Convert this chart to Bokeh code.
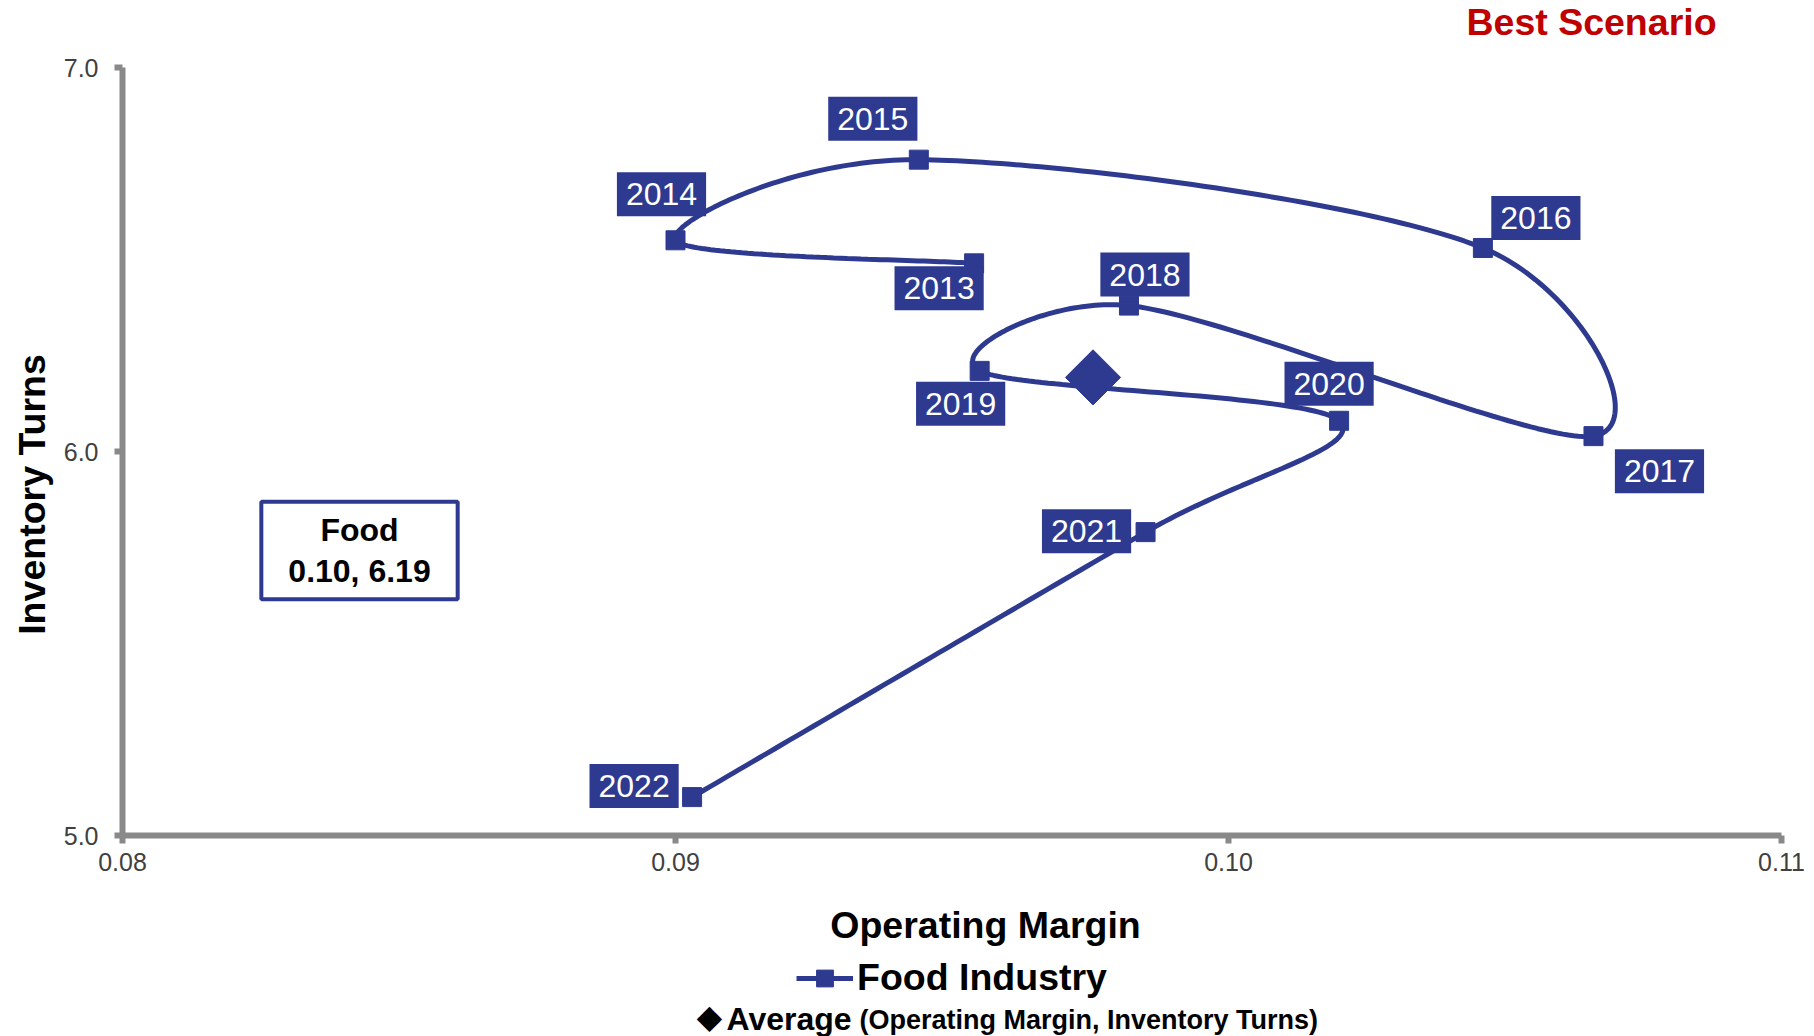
import numpy as np
from bokeh.plotting import figure
from bokeh.layouts import column, row
from bokeh.models import (Label, Legend, LegendItem, FixedTicker,
                          PrintfTickFormatter)
from bokeh.embed import file_html
from bokeh.resources import INLINE

# ---- data -----------------------------------------------------------------
years = ["2013", "2014", "2015", "2016", "2017",
         "2018", "2019", "2020", "2021", "2022"]
operating_margin = [0.0954, 0.0900, 0.0944, 0.1046, 0.1066,
                    0.0982, 0.0955, 0.1020, 0.0985, 0.0903]
inventory_turns = [6.49, 6.55, 6.76, 6.53, 6.04,
                   6.38, 6.21, 6.08, 5.79, 5.10]
x_ticks = [0.08, 0.09, 0.10, 0.11]
y_ticks = [5.0, 6.0, 7.0]

# ---- layout / style -------------------------------------------------------
BLUE = "#2E3A90"
AXIS_GREY = "#898989"
FONT = "Liberation Sans"
TITLE_SIZE = "37.5px"
X_RANGE = (0.08, 0.11)
Y_RANGE = (5.0, 7.0)

PAGE_W = 1814
TOP_H = 47            # strip above the chart
LEFT_W = 60           # strip left of the chart
BOTTOM_H = 141        # strip below the chart
MAIN_W = PAGE_W - LEFT_W
MAIN_H = 848
BORDER_L, BORDER_R, BORDER_T, BORDER_B = 62, 33, 20, 60
FRAME_W = MAIN_W - BORDER_L - BORDER_R
FRAME_H = MAIN_H - BORDER_T - BORDER_B

# pixel offsets of each year tag from its point (right / up)
tag_dx = [-35, -14, -46, 53, 66, 16, -19, -10, -59, -58]
tag_dy = [-25, 46, 41, 30, -35, 31, -33, 37, 1, 11]

avg_x = float(np.mean(operating_margin))
avg_y = float(np.mean(inventory_turns))


def smooth_path(xs, ys, kx, ky, tension=1 / 6, steps=60):
    """Piecewise cubic Bezier through the points, with control arms limited
    to half of each segment (computed in screen proportions)."""
    P = np.column_stack([np.asarray(xs) * kx, np.asarray(ys) * ky])
    n = len(P)
    t = np.linspace(0.0, 1.0, steps)[:, None]
    out = []
    for i in range(n - 1):
        p0 = P[max(i - 1, 0)]
        p1 = P[i]
        p2 = P[i + 1]
        p3 = P[min(i + 2, n - 1)]
        d12 = np.hypot(*(p2 - p1))
        a = p2 - p0
        b = p3 - p1
        da = np.hypot(*a)
        db = np.hypot(*b)
        f1 = tension if da * tension < d12 / 2 else (d12 / 2) / da
        f2 = tension if db * tension < d12 / 2 else (d12 / 2) / db
        c1 = p1 + a * f1
        c2 = p2 - b * f2
        seg = ((1 - t) ** 3) * p1 + 3 * ((1 - t) ** 2) * t * c1 \
            + 3 * (1 - t) * t ** 2 * c2 + t ** 3 * p2
        out.append(seg if i == 0 else seg[1:])
    path = np.vstack(out)
    return path[:, 0] / kx, path[:, 1] / ky


kx = FRAME_W / (X_RANGE[1] - X_RANGE[0])
ky = FRAME_H / (Y_RANGE[1] - Y_RANGE[0])
curve_x, curve_y = smooth_path(operating_margin, inventory_turns, kx, ky)


def strip(width, height):
    """A blank figure whose frame fills its whole area, used for titles."""
    s = figure(width=width, height=height, x_range=(0, 1), y_range=(0, 1),
               x_axis_type=None, y_axis_type=None, toolbar_location=None,
               output_backend="svg", min_border=0)
    s.grid.visible = False
    s.outline_line_color = None
    s.background_fill_color = "white"
    s.border_fill_color = "white"
    return s


def text(fig, x, y, s, size, align="center", color="black", bold=True,
         font=FONT, angle=0.0):
    fig.add_layout(Label(x=x, y=y, x_units="screen", y_units="screen",
                         text=s, angle=angle, text_align=align,
                         text_baseline="middle", text_font=font,
                         text_font_style="bold" if bold else "normal",
                         text_font_size=size, text_color=color))


# ---- main chart -----------------------------------------------------------
p = figure(width=MAIN_W, height=MAIN_H, x_range=X_RANGE, y_range=Y_RANGE,
           output_backend="svg", toolbar_location=None,
           min_border_left=BORDER_L, min_border_right=BORDER_R,
           min_border_top=BORDER_T, min_border_bottom=BORDER_B)
p.grid.visible = False
p.outline_line_color = None
p.background_fill_color = "white"
p.border_fill_color = "white"

for ax in (p.xaxis[0], p.yaxis[0]):
    ax.axis_line_color = AXIS_GREY
    ax.axis_line_width = 6
    ax.major_tick_line_color = AXIS_GREY
    ax.major_tick_line_width = 6
    ax.major_tick_out = 8
    ax.major_tick_in = 0
    ax.minor_tick_line_color = None
    ax.major_label_text_font = FONT
    ax.major_label_text_font_size = "25px"
    ax.major_label_text_color = "#404040"

p.xaxis.ticker = FixedTicker(ticks=x_ticks)
p.yaxis.ticker = FixedTicker(ticks=y_ticks)
p.xaxis.formatter = PrintfTickFormatter(format="%.2f")
p.yaxis.formatter = PrintfTickFormatter(format="%.1f")
p.xaxis.major_label_standoff = 9
p.yaxis.major_label_standoff = 16

p.line(curve_x, curve_y, line_color=BLUE, line_width=5)
p.scatter(operating_margin, inventory_turns, marker="square",
          size=19, color=BLUE)
p.scatter([avg_x], [avg_y], marker="square", angle=np.pi / 4,
          size=39, color=BLUE)

for yr, xv, yv, dx, dy in zip(years, operating_margin, inventory_turns,
                              tag_dx, tag_dy):
    p.add_layout(Label(x=xv, y=yv, x_offset=dx, y_offset=dy, text=yr,
                       text_align="center", text_baseline="middle",
                       text_color="white", text_font=FONT,
                       text_font_size="32px",
                       background_fill_color=BLUE, padding=(9, 11)))

# summary box with the average point
p.add_layout(Label(x=237, y=285, x_units="screen", y_units="screen",
                   text=f"Food\n{avg_x:.2f}, {avg_y:.2f}",
                   text_align="center", text_baseline="middle",
                   text_font=FONT, text_font_style="bold",
                   text_font_size="32px", text_color="black",
                   text_line_height=1.15,
                   background_fill_color="white",
                   border_line_color=BLUE, border_line_width=4,
                   padding=(27, 10)))

# ---- title strips ---------------------------------------------------------
top = strip(PAGE_W, TOP_H)
text(top, 1591, TOP_H - 21, "Best Scenario", TITLE_SIZE, color="#C00000")

left = strip(LEFT_W, MAIN_H)
text(left, 31, 341, "Inventory Turns", TITLE_SIZE, angle=np.pi / 2)

bottom = strip(PAGE_W, BOTTOM_H)
text(bottom, 985, 112, "Operating Margin", TITLE_SIZE)

# legend key: same series, styled like the chart's marks; its data lies
# outside this strip's ranges so only the legend swatch shows
key_line = bottom.line(operating_margin, inventory_turns,
                       line_color=BLUE, line_width=5)
key_pts = bottom.scatter(operating_margin, inventory_turns, marker="square",
                         size=19, color=BLUE)
leg_food = Legend(items=[LegendItem(label="Food Industry",
                                    renderers=[key_line, key_pts])],
                  location=(796, 37), glyph_width=57, glyph_height=42,
                  label_height=42, label_standoff=4, padding=0, spacing=0,
                  margin=0,
                  label_text_font=FONT, label_text_font_style="bold",
                  label_text_font_size=TITLE_SIZE, label_text_color="black",
                  border_line_color=None, background_fill_alpha=0)
bottom.add_layout(leg_food)

# note on the average marker
text(bottom, 709, 20, "\u25C6", "33px", bold=False, font="DejaVu Sans")
text(bottom, 726, 18, "Average", "32px", align="left")
text(bottom, 859, 17, "(Operating Margin, Inventory Turns)", "27px",
     align="left")

page = column(top, row(left, p, spacing=0), bottom, spacing=0)
open("out.html", "w").write(file_html(page, INLINE))
